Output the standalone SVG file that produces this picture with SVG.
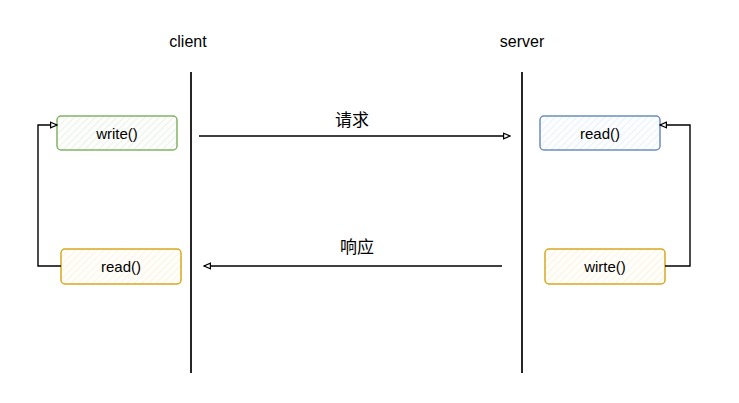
<svg xmlns="http://www.w3.org/2000/svg" width="739" height="403" viewBox="0 0 739 403">
<style>
text{font-family:"Liberation Sans","Noto Sans CJK SC",sans-serif;font-size:15px;fill:#000;text-anchor:middle;dominant-baseline:central}
.lbl{font-size:16px}
.cn{font-size:17px}
.box{stroke-width:1.5}
.ln{stroke:#000;stroke-width:1.4;fill:none}
.life{stroke:#000;stroke-width:1.7}
</style>
<defs>
<pattern id="hg" width="5" height="5" patternUnits="userSpaceOnUse" patternTransform="rotate(45)"><rect width="5" height="5" fill="#fdfefc"/><line x1="0" y1="0" x2="0" y2="5" stroke="#e3efe2" stroke-width="1.5"/></pattern>
<pattern id="hy" width="5" height="5" patternUnits="userSpaceOnUse" patternTransform="rotate(45)"><rect width="5" height="5" fill="#fffefa"/><line x1="0" y1="0" x2="0" y2="5" stroke="#fdf0dc" stroke-width="1.5"/></pattern>
<pattern id="hb" width="5" height="5" patternUnits="userSpaceOnUse" patternTransform="rotate(45)"><rect width="5" height="5" fill="#fcfdff"/><line x1="0" y1="0" x2="0" y2="5" stroke="#e4edfb" stroke-width="1.5"/></pattern>
<marker id="arr" viewBox="0 0 10 10" refX="9" refY="5" markerWidth="8" markerHeight="8" markerUnits="userSpaceOnUse" orient="auto"><path d="M1,1.5 L9,5 L1,8.5 Z" fill="#fff" stroke="#000" stroke-width="1.5"/></marker>
</defs>
<g id="client-label"><text class="lbl" x="188" y="41">client</text></g>
<g id="server-label"><text class="lbl" x="522" y="41">server</text></g>
<g id="lifelines">
<line class="life" x1="191" y1="72" x2="191" y2="373"/>
<line class="life" x1="522" y1="72" x2="522" y2="373"/>
</g>
<g id="client-write"><rect class="box" x="57" y="116" width="120" height="34" rx="4" fill="url(#hg)" stroke="#82b366"/><text x="117" y="133">write()</text></g>
<g id="client-read"><rect class="box" x="61" y="249" width="120" height="35" rx="4" fill="url(#hy)" stroke="#d6a820"/><text x="121" y="266.5">read()</text></g>
<g id="server-read"><rect class="box" x="540" y="116" width="120" height="34" rx="4" fill="url(#hb)" stroke="#6c8ebf"/><text x="600" y="133">read()</text></g>
<g id="server-wirte"><rect class="box" x="545" y="249" width="120" height="35" rx="4" fill="url(#hy)" stroke="#d6a820"/><text x="605" y="266.5">wirte()</text></g>
<g id="connectors">
<line class="ln" x1="199" y1="136" x2="510" y2="136" marker-end="url(#arr)"/>
<text class="cn" x="352" y="120">请求</text>
<line class="ln" x1="502" y1="266" x2="204" y2="266" marker-end="url(#arr)"/>
<text class="cn" x="357" y="247">响应</text>
<polyline class="ln" points="61,266 38,266 38,125 57,125" marker-end="url(#arr)"/>
<polyline class="ln" points="665,266 690,266 690,125 660,125" marker-end="url(#arr)"/>
</g>
</svg>
